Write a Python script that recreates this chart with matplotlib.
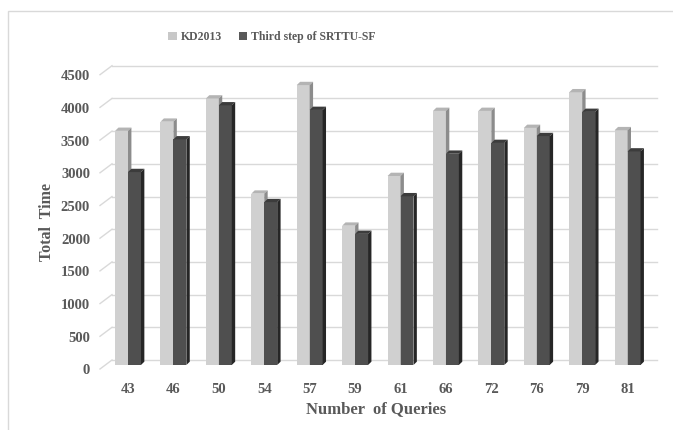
import matplotlib
matplotlib.use("Agg")
from matplotlib import pyplot as plt
from matplotlib.patches import Polygon, Rectangle
from matplotlib.transforms import ScaledTranslation

plt.rcParams['font.family'] = ['Liberation Serif', 'DejaVu Serif']
plt.rcParams['font.weight'] = 'bold'

queries = ['43', '46', '50', '54', '57', '59', '61', '66', '72', '76', '79', '81']
kd2013 = [3580, 3720, 4075, 2620, 4280, 2130, 2890, 3885, 3885, 3625, 4170, 3590]
srttu = [2950, 3450, 3970, 2490, 3900, 2005, 2580, 3230, 3395, 3500, 3870, 3265]
y_ticks = [0, 500, 1000, 1500, 2000, 2500, 3000, 3500, 4000, 4500]

text_col = '#595959'
grid_col = '#d9d9d9'
kd_cols = ('#d0d0d0', '#b4b4b4', '#8c8c8c')   # front, top, side
sr_cols = ('#4f4f4f', '#3c3c3c', '#262626')

fig = plt.figure(figsize=(6.73, 4.30), dpi=100)
# axes = plane of the bar fronts
ax = fig.add_axes([105.3 / 673, (430 - 365) / 430, 545 / 673, 294.3 / 430])
ax.set_xlim(-0.5, 11.5)
ax.set_ylim(0, 4500)
for s in ax.spines.values():
    s.set_visible(False)

# px -> data units
ux = 12 / 545.0
uy = 4500 / 294.3

# back wall / front edge offsets (3d look)
bdx, bdy = 6.7 * ux, 5 * uy
fdx, fdy = -5.3 * ux, -4 * uy

for v in y_ticks:
    ax.plot([-0.5 + bdx, 11.5 + bdx], [v + bdy, v + bdy], color=grid_col, lw=1.0,
            zorder=1, clip_on=False)
    ax.plot([-0.5 + fdx, -0.5 + bdx], [v + fdy, v + bdy], color=grid_col, lw=1.0,
            zorder=1, clip_on=False)

w = 0.285
ddx, ddy = 3.4 * ux, 3.3 * uy


def bar3d(x0, h, cols):
    x1 = x0 + w
    ax.add_patch(Rectangle((x0, 0), w, h, facecolor=cols[0], edgecolor='none', zorder=3))
    ax.add_patch(Polygon([(x0, h), (x1, h), (x1 + ddx, h + ddy), (x0 + ddx, h + ddy)],
                         closed=True, facecolor=cols[1], edgecolor='none', zorder=3))
    ax.add_patch(Polygon([(x1, 0), (x1, h), (x1 + ddx, h + ddy), (x1 + ddx, ddy)],
                         closed=True, facecolor=cols[2], edgecolor='none', zorder=3))


for i in range(len(queries)):
    bar3d(i - w, kd2013[i], kd_cols)
    bar3d(i, srttu[i], sr_cols)

ax.set_xticks(range(len(queries)))
ax.set_xticklabels(queries)
ax.set_yticks(y_ticks)
ax.tick_params(axis='x', length=0, pad=13, labelsize=10.5, labelcolor=text_col)
ax.tick_params(axis='y', length=0, pad=11, labelsize=10.5, labelcolor=text_col)
for lab in ax.get_yticklabels():
    lab.set_transform(lab.get_transform() + ScaledTranslation(0, -0.045, fig.dpi_scale_trans))

fig.text(375.6 / 673, 1 - 409 / 430, 'Number  of Queries', ha='center', va='center',
         fontsize=12, color=text_col, fontweight='bold')
fig.text(46.7 / 673, 1 - 222 / 430, 'Total  Time', ha='center', va='center', rotation=90,
         fontsize=11.5, color=text_col, fontweight='bold')

# legend
h1 = Rectangle((0, 0), 1, 1, facecolor='#c8c8c8')
h2 = Rectangle((0, 0), 1, 1, facecolor='#595959')
leg = fig.legend([h1, h2], ['KD2013', 'Third step of SRTTU-SF'], loc='center',
                 bbox_to_anchor=(272 / 673, 1 - 37 / 430), ncol=2, frameon=False,
                 fontsize=8.5, handlelength=0.75, handleheight=0.75, handletextpad=0.3,
                 columnspacing=1.4)
for t in leg.get_texts():
    t.set_color(text_col)

# chart border
fig.patches.append(Rectangle((8 / 673, -0.2), 1.2, 1.2 - 11 / 430,
                             transform=fig.transFigure, fill=False,
                             edgecolor=grid_col, lw=1.0))

fig.savefig('out.png', dpi=100)
